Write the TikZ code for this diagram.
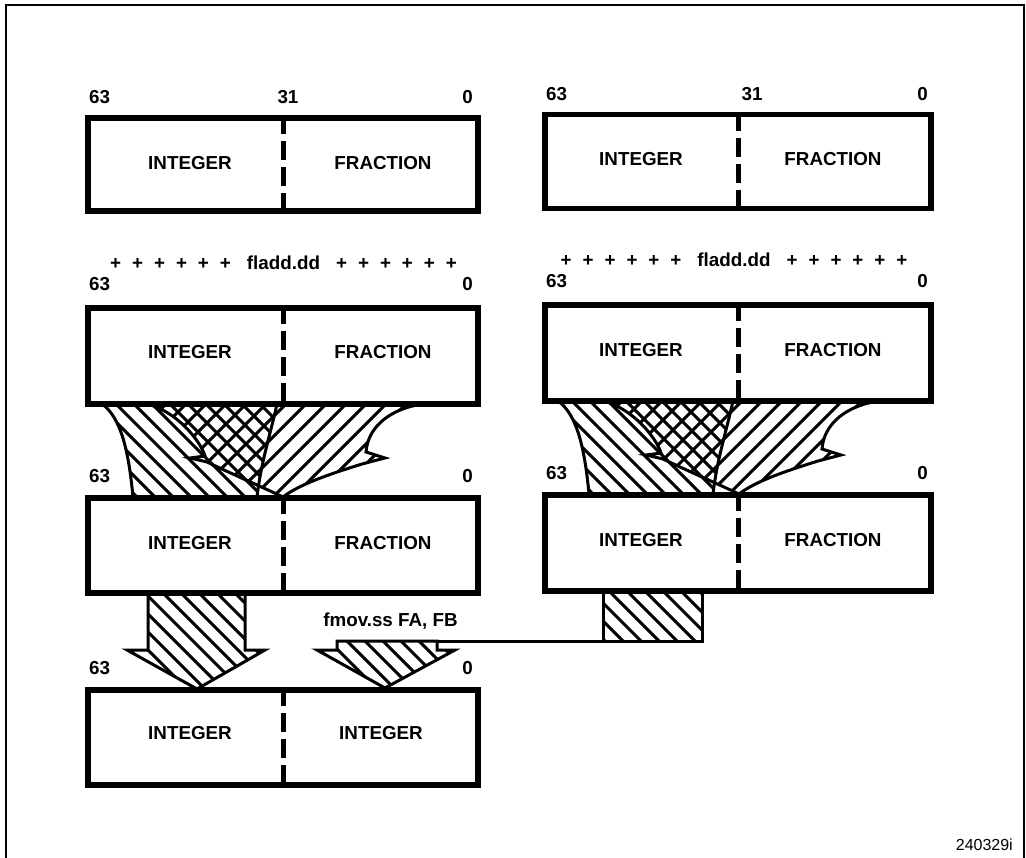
\documentclass[tikz,border=0pt]{standalone}
\usepackage{fontspec}
\setmainfont{Liberation Sans}
\tikzset{
  regbox/.style={draw, line width=5.5pt, inner sep=0pt, rectangle},
  divider/.style={line width=5pt, dash pattern=on 19pt off 7pt},
  lbl/.style={font=\fontsize{18.8}{20}\selectfont\bfseries, inner sep=0pt},
  small/.style={font=\fontsize{16}{18}\selectfont, inner sep=0pt},
  hl/.style={line width=3pt},
  outl/.style={line width=3pt, line join=miter},
}
% #1 path, #2 direction (1 = \\\, -1 = ///), #3 list of offsets
\newcommand{\hatchshape}[3]{%
  \begin{scope}
    \clip #1;
    \foreach \k in {#3}{\draw[hl] (\k,380) -- ++(#2*340,340);}
  \end{scope}
  \draw[outl] #1;}
\newcommand{\plusrow}{+\hspace{11pt}+\hspace{11pt}+\hspace{11pt}+\hspace{11pt}+\hspace{11pt}+\hspace{16pt}fladd.dd\hspace{16pt}+\hspace{11pt}+\hspace{11pt}+\hspace{11pt}+\hspace{11pt}+\hspace{11pt}+}
\begin{document}
\begin{tikzpicture}[x=1pt,y=-1pt]
\useasboundingbox (0,0) rectangle (1026,858);
\draw[line width=2pt] (6,858) -- (6,5) -- (1024,5) -- (1024,858);

% ---------- left column boxes
\node[regbox, minimum width=390pt, minimum height=93pt] (b1) at (283,164.5) {};
\node[regbox, minimum width=390pt, minimum height=96pt] (b3) at (283,356) {};
\node[regbox, minimum width=390pt, minimum height=95pt] (b5) at (283,545.5) {};
\node[regbox, minimum width=390pt, minimum height=95pt] (b7) at (283,737.5) {};
% ---------- right column boxes
\node[regbox, minimum width=386pt, minimum height=94pt] (b2) at (738,161.5) {};
\node[regbox, minimum width=386pt, minimum height=96pt] (b4) at (738,353) {};
\node[regbox, minimum width=386pt, minimum height=96pt] (b6) at (738,543) {};

\foreach \b in {b1,b2,b3,b4,b5,b6,b7}{
  \draw[divider] (\b.north) -- (\b.south);
}

% ---------- texts in boxes
\node[lbl] (t1a) at (190,163) {INTEGER};
\node[lbl] (t1b) at (383,163) {FRACTION};
\node[lbl] (t2a) at (641,159) {INTEGER};
\node[lbl] (t2b) at (833,159) {FRACTION};
\node[lbl] (t3a) at (190,352) {INTEGER};
\node[lbl] (t3b) at (383,352) {FRACTION};
\node[lbl] (t4a) at (641,350) {INTEGER};
\node[lbl] (t4b) at (833,350) {FRACTION};
\node[lbl] (t5a) at (190,543) {INTEGER};
\node[lbl] (t5b) at (383,543) {FRACTION};
\node[lbl] (t6a) at (641,540) {INTEGER};
\node[lbl] (t6b) at (833,540) {FRACTION};
\node[lbl] (t7a) at (190,733) {INTEGER};
\node[lbl] (t7b) at (381,733) {INTEGER};

% ---------- bit labels
\node[lbl, anchor=west] (l1a) at (89,97) {63};
\node[lbl] (l1b) at (288,97) {31};
\node[lbl, anchor=east] (l1c) at (473,97) {0};
\node[lbl, anchor=west] (r1a) at (546,94) {63};
\node[lbl] (r1b) at (752,94) {31};
\node[lbl, anchor=east] (r1c) at (928,94) {0};

\node[lbl] (p1) at (283.5,263) {\plusrow};
\node[lbl] (p2) at (734,260) {\plusrow};

\node[lbl, anchor=west] (l3a) at (89,284) {63};
\node[lbl, anchor=east] (l3c) at (473,284) {0};
\node[lbl, anchor=west] (r3a) at (546,281) {63};
\node[lbl, anchor=east] (r3c) at (928,281) {0};

\node[lbl, anchor=west] (l5a) at (89,476) {63};
\node[lbl, anchor=east] (l5c) at (473,476) {0};
\node[lbl, anchor=west] (r5a) at (546,473) {63};
\node[lbl, anchor=east] (r5c) at (928,473) {0};

\node[lbl, anchor=west] (l7a) at (89,668) {63};
\node[lbl, anchor=east] (l7c) at (473,668) {0};

\node[lbl] (fm) at (390.5,621) {fmov.ss FA, FB};
\node[small, anchor=east] (code) at (1013,845) {240329i};

% ---------- fladd data flow (left and right)
\foreach \sx/\sy in {0/0, 456/-3}{
\begin{scope}[shift={(\sx,\sy)}]
  \hatchshape{(102,404) -- (277,404)
     .. controls (271,432) and (261,462) .. (257,497) -- (133,497)
     .. controls (129,455) and (122,418) .. (102,404) -- cycle}{1}{-250,-232,...,300}
  \hatchshape{(147,404) -- (423,404)
     .. controls (393,408) and (368,425) .. (366,452) -- (385,458) -- (362,464)
     .. controls (330,474) and (300,484) .. (283,497)
     .. controls (262,487) and (232,474) .. (207,462) -- (190,458) -- (205,456)
     .. controls (200,440) and (176,411) .. (147,404) -- cycle}{-1}{150,170,...,800}
\end{scope}
}

% ---------- integer move down (left)
\hatchshape{(148,593) -- (148,650) -- (127,650) -- (197,689)
   -- (265,650) -- (245,650) -- (245,593)}{1}{-230,-212,...,280}

% ---------- fmov.ss from right column
\hatchshape{(603,591) -- (603,641) -- (702,641) -- (702,591)}{1}{200,218,...,720}
\hatchshape{(337,641) -- (337,650) -- (317,650) -- (385,688)
   -- (455,650) -- (437,650) -- (437,641) -- cycle}{1}{-40,-22,...,470}
\draw[outl] (437,641) -- (603,641);
\end{tikzpicture}
\end{document}
